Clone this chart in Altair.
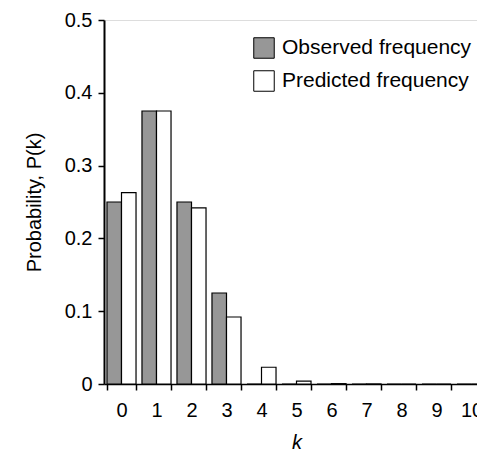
import altair as alt
import pandas as pd

k_values = [str(i) for i in range(11)]
observed = [0.25, 0.375, 0.25, 0.125, 0, 0, 0, 0, 0, 0, 0]
predicted = [0.263, 0.375, 0.242, 0.092, 0.023, 0.004, 0.0005, 0.0001, 0, 0, 0]
series_names = ["Observed frequency", "Predicted frequency"]

rows = []
for i, k in enumerate(k_values):
    rows.append({"k": k, "series": series_names[0], "p": observed[i]})
    rows.append({"k": k, "series": series_names[1], "p": predicted[i]})
df = pd.DataFrame(rows)

FONT = "Liberation Sans"

chart = alt.Chart(df).mark_bar(stroke="black", strokeWidth=1.2).encode(
    x=alt.X("k:N", sort=k_values,
            scale=alt.Scale(range=[0, 385], paddingInner=0.17, paddingOuter=0.085),
            axis=alt.Axis(title="k", titleFontStyle="italic", titleFont=FONT,
                          titleFontSize=20, titleFontWeight="normal", titleColor="black",
                          labelAngle=0, labelFont=FONT, labelFontSize=20, labelColor="black",
                          tickBand="extent", tickSize=6, tickColor="black", tickWidth=1.5,
                          domainColor="black", domainWidth=1.5, labelPadding=10,
                          titlePadding=12)),
    xOffset=alt.XOffset("series:N", sort=series_names,
                        scale=alt.Scale(paddingInner=0, paddingOuter=0)),
    y=alt.Y("p:Q", scale=alt.Scale(domain=[0, 0.5], nice=False),
            axis=alt.Axis(title="Probability, P(k)", values=[0, 0.1, 0.2, 0.3, 0.4, 0.5],
                          labelExpr="datum.value == 0 ? '0' : format(datum.value, '.1f')",
                          grid=False, titleFont=FONT, titleFontSize=20,
                          titleFontWeight="normal", titleColor="black",
                          labelFont=FONT, labelFontSize=20, labelColor="black",
                          tickSize=6, tickColor="black", tickWidth=1.5,
                          domainColor="black", domainWidth=2, labelPadding=6,
                          titlePadding=20)),
    fill=alt.Fill("series:N", sort=series_names,
                  scale=alt.Scale(domain=series_names, range=["#979797", "white"]),
                  legend=alt.Legend(title=None, orient="none", legendX=149, legendY=17,
                                    labelFont=FONT, labelFontSize=21, labelColor="black",
                                    labelLimit=0,
                                    symbolType="square", symbolSize=420,
                                    symbolStrokeColor="black", symbolStrokeWidth=1,
                                    rowPadding=7, labelOffset=7)),
).properties(
    width=373, height=364,
    padding={"left": 104, "top": 20, "right": 0, "bottom": 67},
    autosize=alt.AutoSizeParams(type="none"),
).configure_view(stroke=None).configure(background="white")

chart.save("out.html", embed_options={"renderer": "svg", "actions": False})
